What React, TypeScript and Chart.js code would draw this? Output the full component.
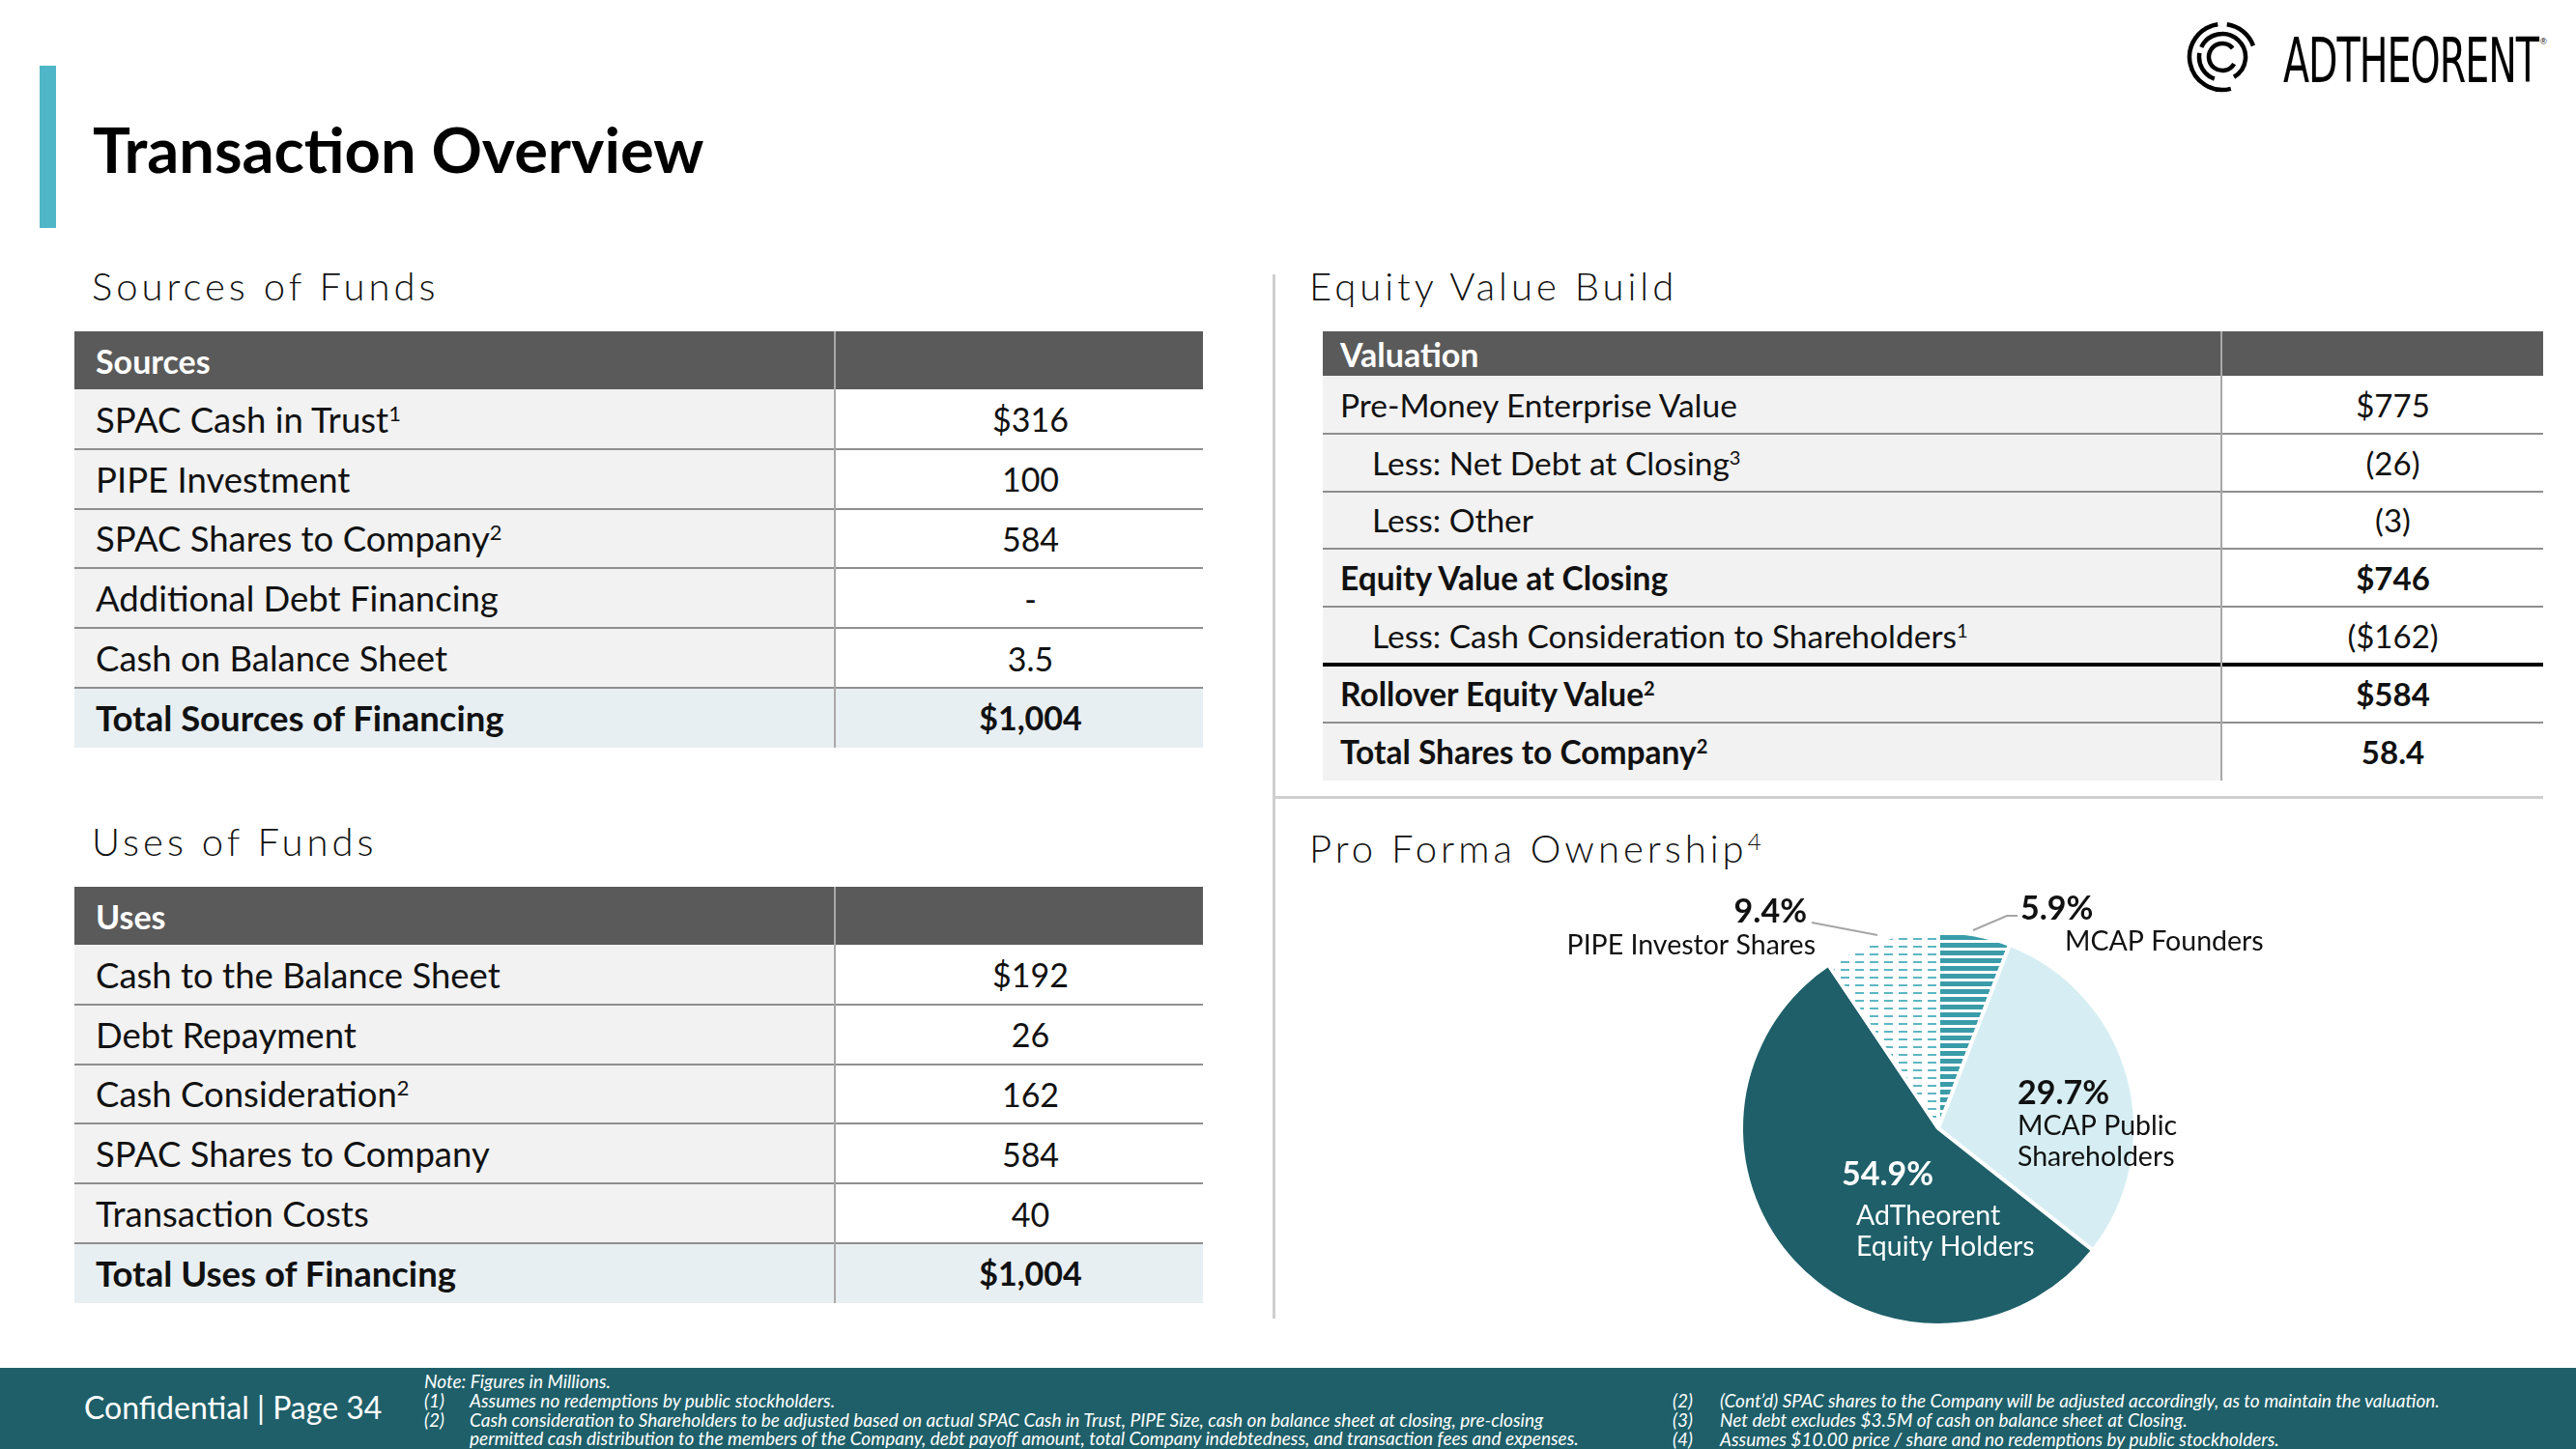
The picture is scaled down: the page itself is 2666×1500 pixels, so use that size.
import React, { useEffect, useRef } from "react";
import { Chart, registerables } from "chart.js";

Chart.register(...registerables);

const FONT = "Lato, 'Open Sans', sans-serif";

// ---------- data ----------
const sourcesLabels = ["SPAC Cash in Trust", "PIPE Investment", "SPAC Shares to Company", "Additional Debt Financing", "Cash on Balance Sheet", "Total Sources of Financing"];
const sourcesSups = ["1", "", "2", "", "", ""];
const sourcesValues = ["$316", "100", "584", "-", "3.5", "$1,004"];

const usesLabels = ["Cash to the Balance Sheet", "Debt Repayment", "Cash Consideration", "SPAC Shares to Company", "Transaction Costs", "Total Uses of Financing"];
const usesSups = ["", "", "2", "", "", ""];
const usesValues = ["$192", "26", "162", "584", "40", "$1,004"];

const valuationLabels = ["Pre-Money Enterprise Value", "Less: Net Debt at Closing", "Less: Other", "Equity Value at Closing", "Less: Cash Consideration to Shareholders", "Rollover Equity Value", "Total Shares to Company"];
const valuationSups = ["", "3", "", "", "1", "2", "2"];
const valuationValues = ["$775", "(26)", "(3)", "$746", "($162)", "$584", "58.4"];
const valuationIndent = [false, true, true, false, true, false, false];
const valuationBold = [false, false, false, true, false, true, true];

const ownershipLabels = ["MCAP Founders", "MCAP Public Shareholders", "AdTheorent Equity Holders", "PIPE Investor Shares"];
const ownershipValues = [5.9, 29.7, 54.9, 9.4];
const ownershipNameLines = [["MCAP Founders"], ["MCAP Public", "Shareholders"], ["AdTheorent", "Equity Holders"], ["PIPE Investor Shares"]];

const footLeft = [
  ["", "Note: Figures in Millions."],
  ["(1)", "Assumes no redemptions by public stockholders."],
  ["(2)", "Cash consideration to Shareholders to be adjusted based on actual SPAC Cash in Trust, PIPE Size, cash on balance sheet at closing, pre-closing"],
  ["", "permitted cash distribution to the members of the Company, debt payoff amount, total Company indebtedness, and transaction fees and expenses."],
];
const footRight = [
  ["(2)", "(Cont\u2019d) SPAC shares to the Company will be adjusted accordingly, as to maintain the valuation."],
  ["(3)", "Net debt excludes $3.5M of cash on balance sheet at Closing."],
  ["(4)", "Assumes $10.00 price / share and no redemptions by public stockholders."],
];

// ---------- colours ----------
const DARK_TEAL = "#1e5f69";
const LIGHT_CYAN = "#d6eef3";
const STRIPE = "#3a9ca9";
const DASH = "#5cb7c3";

// label layout offsets relative to pie centre (px)
const LABEL_LAYOUT = [
  { align: "left", px: 85, py: -216, nx: 131, ny: -184, color: "#111" },
  { align: "left", px: 82, py: -25, nx: 82, ny: 7, color: "#111" },
  { align: "left", px: -100, py: 59, nx: -85, ny: 100, color: "#fff" },
  { align: "right", px: -136, py: -213, nx: -127, ny: -180, color: "#111" },
];

function makeStripe(): CanvasPattern | string {
  const c = document.createElement("canvas");
  c.width = 10; c.height = 8;
  const g = c.getContext("2d")!;
  g.fillStyle = "#fff"; g.fillRect(0, 0, 10, 8);
  g.fillStyle = STRIPE; g.fillRect(0, 0, 10, 5);
  const p = g.createPattern(c, "repeat");
  return p || STRIPE;
}
function makeDash(): CanvasPattern | string {
  const c = document.createElement("canvas");
  c.width = 15; c.height = 8;
  const g = c.getContext("2d")!;
  g.fillStyle = "#fff"; g.fillRect(0, 0, 15, 8);
  g.fillStyle = DASH; g.fillRect(0, 3, 9, 2);
  const p = g.createPattern(c, "repeat");
  return p || DASH;
}

const labelPlugin = {
  id: "sliceLabels",
  afterDatasetsDraw(chart: any) {
    const meta = chart.getDatasetMeta(0);
    const arc = meta.data[0];
    if (!arc) return;
    const cx = arc.x, cy = arc.y;
    const ctx = chart.ctx as CanvasRenderingContext2D;
    ctx.save();
    ctx.strokeStyle = "#a6a6a6";
    ctx.lineWidth = 2;
    ctx.beginPath();
    ctx.moveTo(cx - 131, cy - 213);
    ctx.lineTo(cx - 63, cy - 200);
    ctx.stroke();
    ctx.beginPath();
    ctx.moveTo(cx + 36, cy - 205);
    ctx.lineTo(cx + 71, cy - 220);
    ctx.lineTo(cx + 82, cy - 220);
    ctx.stroke();
    ownershipValues.forEach((v, i) => {
      const L = LABEL_LAYOUT[i];
      ctx.fillStyle = L.color;
      ctx.textAlign = L.align as CanvasTextAlign;
      ctx.textBaseline = "alphabetic";
      ctx.font = `bold 34px ${FONT}`;
      ctx.fillText(v.toFixed(1) + "%", cx + L.px, cy + L.py);
      ctx.font = `28.5px ${FONT}`;
      ownershipNameLines[i].forEach((t, j) => ctx.fillText(t, cx + L.nx, cy + L.ny + j * 32));
    });
    ctx.restore();
  },
};

function PieChart() {
  const ref = useRef<HTMLCanvasElement>(null);
  useEffect(() => {
    if (!ref.current) return;
    const chart = new Chart(ref.current, {
      type: "pie",
      data: {
        labels: ownershipLabels,
        datasets: [
          {
            data: ownershipValues,
            backgroundColor: [makeStripe(), LIGHT_CYAN, DARK_TEAL, makeDash()] as any,
            borderColor: "#ffffff",
            borderWidth: 4,
          },
        ],
      },
      options: {
        responsive: false,
        animation: false,
        layout: { padding: { left: 240, right: 248, top: 82, bottom: 6 } },
        plugins: { legend: { display: false }, tooltip: { enabled: false } },
      },
      plugins: [labelPlugin],
    });
    return () => chart.destroy();
  }, []);
  return <canvas ref={ref} width={900} height={500} style={{ position: "absolute", left: 1560, top: 880, width: 900, height: 500 }} />;
}

const sup = (s: string) => (s ? <sup style={{ fontSize: "0.6em", verticalAlign: "0.55em", lineHeight: 0 }}>{s}</sup> : null);

type TableProps = {
  left: number; top: number; width: number; split: number; headerH: number; rowH: number;
  title: string; labels: string[]; sups: string[]; values: string[];
  bold: boolean[]; indent?: boolean[]; totalBg?: boolean; thickAfter?: number; padL: number; valShift: number;
  labelSize: number; valueSize: number;
};

function Table(p: TableProps) {
  const n = p.labels.length;
  const rows = [] as any[];
  for (let i = 0; i < n; i++) {
    const top = p.top + p.headerH + i * p.rowH;
    const isTotal = p.totalBg && i === n - 1;
    const labelBg = isTotal ? "#e8eff3" : "#f2f2f2";
    const valBg = isTotal ? "#e8eff3" : "#ffffff";
    rows.push(
      <div key={"l" + i} style={{ position: "absolute", left: p.left, top, width: p.split - p.left, height: p.rowH, background: labelBg, display: "flex", alignItems: "center", boxSizing: "border-box", paddingLeft: p.padL + (p.indent && p.indent[i] ? 33 : 0), fontWeight: p.bold[i] ? 700 : 400, whiteSpace: "nowrap", fontSize: p.labelSize }}>
        <span>{p.labels[i]}{sup(p.sups[i])}</span>
      </div>
    );
    rows.push(
      <div key={"v" + i} style={{ position: "absolute", left: p.split, top, width: p.left + p.width - p.split, height: p.rowH, background: valBg, display: "flex", alignItems: "center", justifyContent: "center", boxSizing: "border-box", paddingLeft: p.valShift, fontWeight: p.bold[i] ? 700 : 400, fontSize: p.valueSize }}>
        {p.values[i]}
      </div>
    );
    if (i > 0) {
      const thick = p.thickAfter === i - 1;
      rows.push(<div key={"b" + i} style={{ position: "absolute", left: p.left, top: top - (thick ? 2 : 1), width: p.width, height: thick ? 4 : 2, background: thick ? "#000" : "#8f8f8f" }} />);
    }
  }
  const totalH = p.headerH + n * p.rowH;
  return (
    <div style={{ color: "#111" }}>
      <div style={{ position: "absolute", left: p.left, top: p.top, width: p.width, height: p.headerH, background: "#5a5a5a", color: "#fff", fontWeight: 700, fontSize: 34, display: "flex", alignItems: "center", boxSizing: "border-box", paddingLeft: p.padL }}>{p.title}</div>
      {rows}
      <div style={{ position: "absolute", left: p.split - 1, top: p.top, width: 2, height: totalH, background: "#a8a8a8" }} />
    </div>
  );
}

function arcPath(cx: number, cy: number, r: number, a0: number, a1: number) {
  const rad = (a: number) => (a * Math.PI) / 180;
  const x0 = cx + r * Math.cos(rad(a0)), y0 = cy + r * Math.sin(rad(a0));
  const x1 = cx + r * Math.cos(rad(a1)), y1 = cy + r * Math.sin(rad(a1));
  const large = a1 - a0 > 180 ? 1 : 0;
  return `M ${x0} ${y0} A ${r} ${r} 0 ${large} 1 ${x1} ${y1}`;
}

function Logo() {
  const cx = 37, cy = 39;
  return (
    <>
      <svg style={{ position: "absolute", left: 2263, top: 20 }} width={80} height={82}>
        <g fill="none" stroke="#000" strokeWidth={4.5} strokeLinecap="butt">
          <path d={arcPath(cx, cy, 34, 75, 262)} />
          <path d={arcPath(cx, cy, 34, 278, 340)} />
          <path d={arcPath(cx, cy, 24, 205, 420)} />
          <path d={arcPath(cx, cy, 24, 110, 190)} />
          <path d={arcPath(cx, cy, 14, 30, 320)} />
        </g>
      </svg>
      <div style={{ position: "absolute", left: 2363, top: 31, fontFamily: "'Liberation Sans Narrow', 'DejaVu Sans Condensed', sans-serif", fontSize: 44, lineHeight: "44px", letterSpacing: -1, color: "#000", whiteSpace: "nowrap", transform: "scaleY(1.45)", transformOrigin: "left top" }}>ADTHEORENT</div>
      <div style={{ position: "absolute", left: 2629, top: 38, fontFamily: "sans-serif", fontSize: 9, lineHeight: "10px", color: "#000" }}>®</div>
    </>
  );
}

const headingStyle: React.CSSProperties = { position: "absolute", fontSize: 40, fontWeight: 300, letterSpacing: 4.0, color: "#111", lineHeight: "40px", whiteSpace: "nowrap" };

const footStyle: React.CSSProperties = { position: "absolute", fontSize: 19, fontStyle: "italic", color: "#fff", lineHeight: "18px", height: 18, whiteSpace: "nowrap" };

export default function App() {
  return (
    <div style={{ position: "absolute", left: 0, top: 0, width: 2666, height: 1500, background: "#fff", overflow: "hidden", fontFamily: FONT }}>
      {/* accent bar + title */}
      <div style={{ position: "absolute", left: 41, top: 68, width: 17, height: 168, background: "#4fb6c8" }} />
      <div style={{ position: "absolute", left: 96, top: 118, fontSize: 65, fontWeight: 700, lineHeight: "72px", color: "#000", whiteSpace: "nowrap" }}>Transaction Overview</div>
      <Logo />

      {/* section headings */}
      <div style={{ ...headingStyle, left: 95, top: 276 }}>Sources of Funds</div>
      <div style={{ ...headingStyle, left: 95, top: 851 }}>Uses of Funds</div>
      <div style={{ ...headingStyle, left: 1355, top: 276 }}>Equity Value Build</div>
      <div style={{ ...headingStyle, left: 1355, top: 858 }}>Pro Forma Ownership{sup("4")}</div>

      {/* dividers */}
      <div style={{ position: "absolute", left: 1317, top: 284, width: 3, height: 1081, background: "#cfcfcf" }} />
      <div style={{ position: "absolute", left: 1318, top: 824, width: 1314, height: 3, background: "#cfcfcf" }} />

      <Table left={77} top={343} width={1168} split={864} headerH={60} rowH={61.8} title="Sources" labels={sourcesLabels} sups={sourcesSups} values={sourcesValues} bold={[false, false, false, false, false, true]} totalBg padL={22} valShift={24} labelSize={36.5} valueSize={34} />
      <Table left={77} top={918} width={1168} split={864} headerH={60} rowH={61.8} title="Uses" labels={usesLabels} sups={usesSups} values={usesValues} bold={[false, false, false, false, false, true]} totalBg padL={22} valShift={24} labelSize={36.5} valueSize={34} />
      <Table left={1369} top={343} width={1263} split={2299} headerH={46} rowH={59.8} title="Valuation" labels={valuationLabels} sups={valuationSups} values={valuationValues} bold={valuationBold} indent={valuationIndent} thickAfter={4} padL={18} valShift={22} labelSize={33.5} valueSize={33} />

      <PieChart />

      {/* footer */}
      <div style={{ position: "absolute", left: 0, top: 1416, width: 2666, height: 84, background: DARK_TEAL }} />
      <div style={{ position: "absolute", left: 87, top: 1438, fontSize: 32, color: "#fff", lineHeight: "38px", whiteSpace: "nowrap" }}>Confidential | Page 34</div>
      {footLeft.map((f, i) => (
        <div key={"fl" + i} style={{ ...footStyle, left: 439, top: 1421 + i * 19.8 }}>
          {i > 0 ? <span style={{ display: "inline-block", width: 47 }}>{f[0]}</span> : null}
          {f[1]}
        </div>
      ))}
      {footRight.map((f, i) => (
        <div key={"fr" + i} style={{ ...footStyle, left: 1731, top: 1441 + i * 19.8 }}>
          <span style={{ display: "inline-block", width: 49 }}>{f[0]}</span>
          {f[1]}
        </div>
      ))}
    </div>
  );
}
